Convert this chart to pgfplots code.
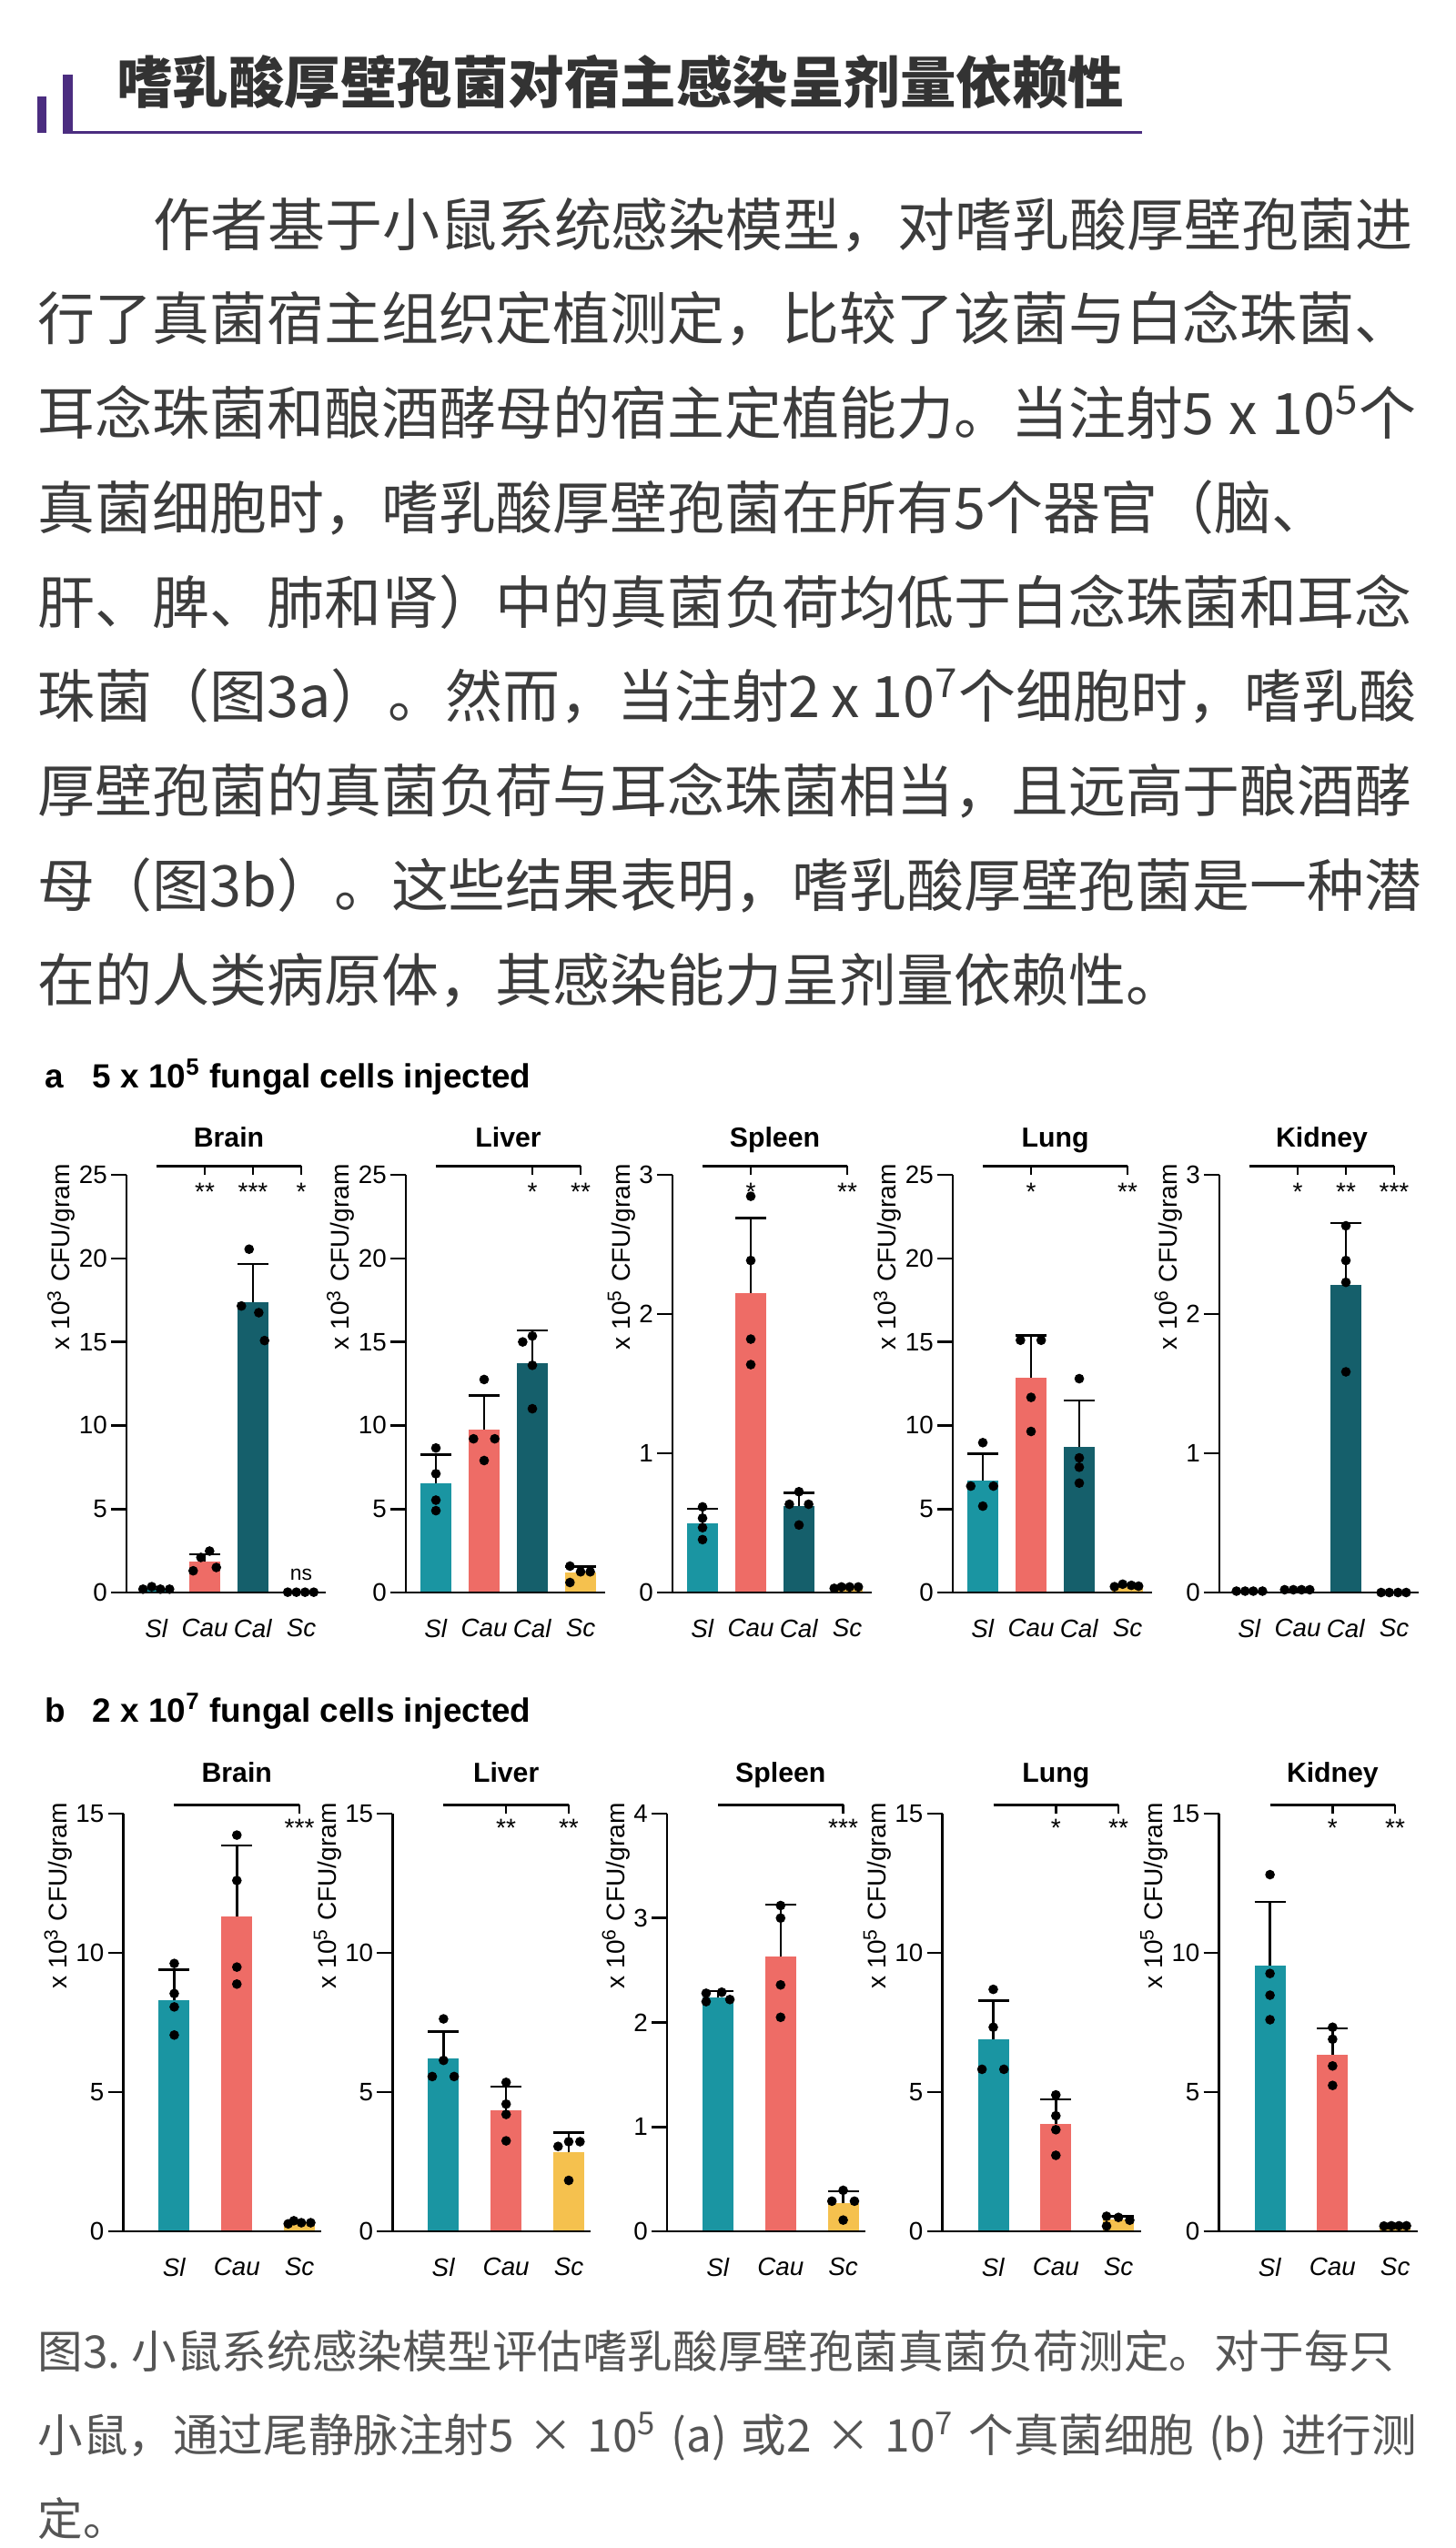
\documentclass[border=0pt]{standalone}
\usepackage{fontspec}
\usepackage{pgfplots}
\pgfplotsset{compat=1.18}
\setmainfont{Liberation Sans}
\newfontfamily\cjk{Noto Sans CJK SC}

% stretchable glue between CJK characters, switched on only in the text lines
\XeTeXinterchartoks 1 1 = {\hskip0pt plus 3pt\relax}
\XeTeXinterchartoks 1 2 = {\hskip0pt plus 3pt\relax}
\XeTeXinterchartoks 1 3 = {\hskip0pt plus 3pt\relax}
\XeTeXinterchartoks 3 1 = {\hskip0pt plus 3pt\relax}
\XeTeXinterchartoks 3 2 = {\hskip0pt plus 3pt\relax}
\XeTeXinterchartoks 0 1 = {\hskip0pt plus 3pt\relax}
\XeTeXinterchartoks 1 0 = {\hskip0pt plus 3pt\relax}
\newcommand{\cjkj}{\cjk\XeTeXinterchartokenstate=1 }

\definecolor{cSl}{HTML}{1A95A2}
\definecolor{cCau}{HTML}{EE6C66}
\definecolor{cCal}{HTML}{155F6B}
\definecolor{cSc}{HTML}{F5C14E}
\definecolor{hpurple}{HTML}{4B2D80}
\definecolor{titlegray}{HTML}{333333}
\definecolor{bodygray}{HTML}{3C3C3C}
\definecolor{capgray}{HTML}{555555}

\newcommand{\fs}[1]{\fontsize{#1}{#1}\selectfont}

% significance bracket, ticks + stars, organ title (used inside an axis)
\newcommand{\brk}[1]{\draw[line width=0.7pt] ({axis cs:1,0}|-{rel axis cs:0,1.021}) -- ({axis cs:#1,0}|-{rel axis cs:0,1.021});}
\newcommand{\sig}[3]{\draw[line width=0.7pt] ({axis cs:#1,0}|-{rel axis cs:0,1.021}) -- ({axis cs:#1,0}|-{rel axis cs:0,1});
  \node[font=\fs{8pt}, anchor=base, inner sep=0pt] at ({axis cs:#1,0}|-{rel axis cs:0,#3}) {#2};}
\newcommand{\organ}[3]{\node[font=\bfseries\fs{8.6pt}, anchor=base, inner sep=0pt] at ({axis cs:#1,0}|-{rel axis cs:0,#2}) {#3};}

\pgfplotsset{
  panel/.style={
    scale only axis, height=4.59cm,
    axis lines=left, axis line style={-, line width=0.75pt},
    ymin=0, enlargelimits=false, clip=false, axis on top,
    anchor=south west,
    xtick style={draw=none},
    ytick style={line width=0.75pt, black},
    tick align=outside, major tick length=0.17cm,
    ticklabel style={font=\fs{7.9pt}},
    yticklabel style={inner xsep=1pt},
    /pgf/number format/assume math mode=true,
    ylabel style={at={(ticklabel cs:1.027)}, anchor=south east, inner sep=0pt, font=\fs{8pt}},
  },
  rowa/.style={panel, width=2.185cm, xmin=0.377, xmax=4.5, xtick={1,2,3,4},
    xticklabels={\textit{Sl},\textit{Cau},\textit{Cal},\textit{Sc}}},
  rowb/.style={panel, width=2.18cm, xmin=0.186, xmax=3.355, xtick={1,2,3},
    xticklabels={\textit{Sl},\textit{Cau},\textit{Sc}}},
  cbar/.style={ybar, bar width=0.34cm, bar shift=0pt, draw=none, fill=#1},
  cbarE/.style={cbar=#1, error bars/y dir=plus, error bars/y explicit,
    error bars/error mark=|,
    error bars/error bar style={line width=0.7pt, black},
    error bars/error mark options={line width=0.7pt, black, mark size=0.17cm}},
  dots/.style={only marks, mark=*, mark size=1.3pt, black},
}

\begin{document}
\begin{tikzpicture}
\path[use as bounding box] (0,0) rectangle (16,-28);

% ---- header
\fill[hpurple] (0.41,-1.06) rectangle (0.51,-1.46);
\fill[hpurple] (0.69,-0.82) rectangle (0.80,-1.47);
\fill[hpurple] (0.69,-1.435) rectangle (12.55,-1.47);
\node[anchor=base west, inner sep=0pt, font=\cjk\bfseries\fs{17.5pt}, text=titlegray] at (1.276,-1.13) {嗜乳酸厚壁孢菌对宿主感染呈剂量依赖性};

% ---- body text
\begin{scope}[every node/.style={anchor=base west, inner sep=0pt, font=\cjkj\fs{17.9pt}, text=bodygray}]
\node at (1.68,-2.700) {\hbox to 13.88cm{作者基于小鼠系统感染模型，对嗜乳酸厚壁孢菌进}};
\node at (0.41,-3.738) {\hbox to 15.15cm{行了真菌宿主组织定植测定，比较了该菌与白念珠菌、}};
\node at (0.41,-4.775) {\hbox to 15.15cm{耳念珠菌和酿酒酵母的宿主定植能力。当注射5 x 10\textsuperscript{5}个}};
\node at (0.41,-5.813) {\hbox to 15.15cm{真菌细胞时，嗜乳酸厚壁孢菌在所有5个器官（脑、}};
\node at (0.41,-6.850) {\hbox to 15.15cm{肝、脾、肺和肾）中的真菌负荷均低于白念珠菌和耳念}};
\node at (0.41,-7.888) {\hbox to 15.15cm{珠菌（图3a）。然而，当注射2 x 10\textsuperscript{7}个细胞时，嗜乳酸}};
\node at (0.41,-8.925) {\hbox to 15.15cm{厚壁孢菌的真菌负荷与耳念珠菌相当，且远高于酿酒酵}};
\node at (0.41,-9.963) {\hbox to 15.15cm{母（图3b）。这些结果表明，嗜乳酸厚壁孢菌是一种潜}};
\node at (0.41,-11.000) {在的人类病原体，其感染能力呈剂量依赖性。};
\end{scope}

% ---- panel headings
\node[anchor=base west, inner sep=0pt, font=\bfseries\fs{10.5pt}] at (0.484,-11.956) {a};
\node[anchor=base west, inner sep=0pt, font=\bfseries\fs{10.5pt}] at (1.01,-11.956) {5 x 10\textsuperscript{5} fungal cells injected};
\node[anchor=base west, inner sep=0pt, font=\bfseries\fs{10.5pt}] at (0.484,-18.92) {b};
\node[anchor=base west, inner sep=0pt, font=\bfseries\fs{10.5pt}] at (1.01,-18.92) {2 x 10\textsuperscript{7} fungal cells injected};

% ================= row a =================
\begin{axis}[rowa, at={(1.39cm,-17.50cm)}, ymax=25, ytick={0,5,10,15,20,25}, ylabel={x 10\textsuperscript{3} CFU/gram}]
\addplot[cbar=cSl] coordinates {(1,0.22)};
\addplot[cbarE=cCau] coordinates {(2,1.85) +- (0,0.45)};
\addplot[cbarE=cCal] coordinates {(3,17.4) +- (0,2.25)};
\addplot[cbar=cSc] coordinates {(4,0.03)};
\addplot[dots] coordinates {(0.72,0.2)(0.9,0.35)(1.08,0.2)(1.27,0.2)
  (1.76,1.3)(1.92,2.1)(2.1,2.48)(2.24,1.5)
  (2.92,20.55)(2.76,17.15)(3.12,16.75)(3.24,15.08)
  (3.72,0.02)(3.9,0.02)(4.08,0.02)(4.26,0.02)};
\organ{2.5}{1.0675}{Brain}
\brk{4}
\sig{2}{**}{0.937}\sig{3}{***}{0.937}\sig{4}{*}{0.937}
\node[font=\fs{6.5pt}, anchor=base, inner sep=0pt] at (axis cs:4,0.76) {ns};
\end{axis}

\begin{axis}[rowa, at={(4.46cm,-17.50cm)}, ymax=25, ytick={0,5,10,15,20,25}, ylabel={x 10\textsuperscript{3} CFU/gram}]
\addplot[cbarE=cSl] coordinates {(1,6.55) +- (0,1.7)};
\addplot[cbarE=cCau] coordinates {(2,9.75) +- (0,2.05)};
\addplot[cbarE=cCal] coordinates {(3,13.7) +- (0,2.0)};
\addplot[cbarE=cSc] coordinates {(4,1.2) +- (0,0.35)};
\addplot[dots] coordinates {(1,8.65)(1,7.11)(1,5.53)(1,4.9)
  (2,12.75)(1.78,9.2)(2.22,9.2)(2,7.9)
  (2.8,15.0)(3,15.35)(3,13.6)(3,11.0)
  (3.78,1.58)(4,1.24)(4.2,1.24)(3.78,0.6)};
\organ{2.5}{1.0675}{Liver}
\brk{4}
\sig{3}{*}{0.937}\sig{4}{**}{0.937}
\end{axis}

\begin{axis}[rowa, at={(7.39cm,-17.50cm)}, ymax=3, ytick={0,1,2,3}, ylabel={x 10\textsuperscript{5} CFU/gram}]
\addplot[cbarE=cSl] coordinates {(1,0.5) +- (0,0.1)};
\addplot[cbarE=cCau] coordinates {(2,2.15) +- (0,0.54)};
\addplot[cbarE=cCal] coordinates {(3,0.62) +- (0,0.095)};
\addplot[cbar=cSc] coordinates {(4,0.035)};
\addplot[dots] coordinates {(1,0.615)(1,0.534)(1,0.466)(1,0.38)
  (2,2.846)(2,2.385)(2,1.82)(2,1.637)
  (3,0.724)(2.8,0.634)(3.2,0.634)(3,0.485)
  (3.73,0.03)(3.88,0.04)(4.05,0.04)(4.23,0.04)};
\organ{2.5}{1.0675}{Spleen}
\brk{4}
\sig{2}{*}{0.937}\sig{4}{**}{0.937}
\end{axis}

\begin{axis}[rowa, at={(10.47cm,-17.50cm)}, ymax=25, ytick={0,5,10,15,20,25}, ylabel={x 10\textsuperscript{3} CFU/gram}]
\addplot[cbarE=cSl] coordinates {(1,6.7) +- (0,1.6)};
\addplot[cbarE=cCau] coordinates {(2,12.85) +- (0,2.55)};
\addplot[cbarE=cCal] coordinates {(3,8.7) +- (0,2.8)};
\addplot[cbar=cSc] coordinates {(4,0.42)};
\addplot[dots] coordinates {(1,8.97)(0.75,6.37)(1.22,6.37)(1,5.17)
  (1.78,15.1)(2.21,15.1)(2,11.68)(2,9.64)
  (3,12.8)(3,8.06)(3,7.5)(3,6.55)
  (3.73,0.35)(3.9,0.5)(4.08,0.43)(4.23,0.38)};
\organ{2.5}{1.0675}{Lung}
\brk{4}
\sig{2}{*}{0.937}\sig{4}{**}{0.937}
\end{axis}

\begin{axis}[rowa, at={(13.40cm,-17.50cm)}, ymax=3, ytick={0,1,2,3}, ylabel={x 10\textsuperscript{6} CFU/gram}]
\addplot[cbar=cSl] coordinates {(1,0.01)};
\addplot[cbar=cCau] coordinates {(2,0.02)};
\addplot[cbarE=cCal] coordinates {(3,2.21) +- (0,0.445)};
\addplot[cbar=cSc] coordinates {(4,0)};
\addplot[dots] coordinates {(0.73,0.01)(0.91,0.01)(1.08,0.01)(1.27,0.01)
  (1.73,0.02)(1.91,0.02)(2.08,0.02)(2.25,0.02)
  (3,2.634)(3,2.385)(3,2.228)(3,1.585)
  (3.73,0)(3.9,0)(4.08,0)(4.25,0)};
\organ{2.5}{1.0675}{Kidney}
\brk{4}
\sig{2}{*}{0.937}\sig{3}{**}{0.937}\sig{4}{***}{0.937}
\end{axis}

% ================= row b =================
\begin{axis}[rowb, at={(1.355cm,-24.52cm)}, ymax=15, ytick={0,5,10,15}, ylabel={x 10\textsuperscript{3} CFU/gram}]
\addplot[cbarE=cSl] coordinates {(1,8.3) +- (0,1.1)};
\addplot[cbarE=cCau] coordinates {(2,11.3) +- (0,2.55)};
\addplot[cbar=cSc] coordinates {(3,0.32)};
\addplot[dots] coordinates {(1,9.62)(1,8.54)(1,8.06)(1,7.05)
  (2,14.23)(2,12.6)(2,9.49)(2,8.88)
  (2.82,0.27)(2.91,0.38)(3.03,0.31)(3.18,0.31)};
\organ{2}{1.075}{Brain}
\brk{3}
\sig{3}{***}{0.945}
\end{axis}

\begin{axis}[rowb, at={(4.314cm,-24.52cm)}, ymax=15, ytick={0,5,10,15}, ylabel={x 10\textsuperscript{5} CFU/gram}]
\addplot[cbarE=cSl] coordinates {(1,6.2) +- (0,0.98)};
\addplot[cbarE=cCau] coordinates {(2,4.35) +- (0,0.84)};
\addplot[cbarE=cSc] coordinates {(3,2.83) +- (0,0.72)};
\addplot[dots] coordinates {(1,7.63)(1,6.14)(0.82,5.56)(1.17,5.56)
  (2,5.35)(2,4.57)(2,4.2)(2,3.25)
  (2.83,3.05)(3,3.22)(3.18,3.22)(3,1.83)};
\organ{2}{1.075}{Liver}
\brk{3}
\sig{2}{**}{0.945}\sig{3}{**}{0.945}
\end{axis}

\begin{axis}[rowb, at={(7.33cm,-24.52cm)}, ymax=4, ytick={0,1,2,3,4}, ylabel={x 10\textsuperscript{6} CFU/gram}]
\addplot[cbarE=cSl] coordinates {(1,2.24) +- (0,0.06)};
\addplot[cbarE=cCau] coordinates {(2,2.63) +- (0,0.5)};
\addplot[cbarE=cSc] coordinates {(3,0.27) +- (0,0.115)};
\addplot[dots] coordinates {(0.81,2.28)(1.06,2.29)(1.19,2.22)(0.81,2.2)
  (2,3.12)(2,3.0)(2,2.36)(2,2.05)
  (3,0.393)(2.82,0.289)(3.18,0.289)(3,0.108)};
\organ{2}{1.075}{Spleen}
\brk{3}
\sig{3}{***}{0.945}
\end{axis}

\begin{axis}[rowb, at={(10.355cm,-24.52cm)}, ymax=15, ytick={0,5,10,15}, ylabel={x 10\textsuperscript{5} CFU/gram}]
\addplot[cbarE=cSl] coordinates {(1,6.9) +- (0,1.38)};
\addplot[cbarE=cCau] coordinates {(2,3.85) +- (0,0.89)};
\addplot[cbarE=cSc] coordinates {(3,0.41) +- (0,0.13)};
\addplot[dots] coordinates {(1,8.69)(1,7.33)(0.82,5.82)(1.17,5.82)
  (2,4.9)(2,4.15)(2,3.65)(2,2.73)
  (2.81,0.54)(3,0.5)(3.18,0.4)(2.81,0.19)};
\organ{2}{1.075}{Lung}
\brk{3}
\sig{2}{*}{0.945}\sig{3}{**}{0.945}
\end{axis}

\begin{axis}[rowb, at={(13.396cm,-24.52cm)}, ymax=15, ytick={0,5,10,15}, ylabel={x 10\textsuperscript{5} CFU/gram}]
\addplot[cbarE=cSl] coordinates {(1,9.55) +- (0,2.28)};
\addplot[cbarE=cCau] coordinates {(2,6.35) +- (0,0.94)};
\addplot[cbar=cSc] coordinates {(3,0.2)};
\addplot[dots] coordinates {(1,12.81)(1,9.26)(1,8.48)(1,7.6)
  (2,7.33)(2,6.9)(2,5.94)(2,5.24)
  (2.82,0.19)(2.94,0.2)(3.06,0.2)(3.18,0.2)};
\organ{2}{1.075}{Kidney}
\brk{3}
\sig{2}{*}{0.945}\sig{3}{**}{0.945}
\end{axis}

% ---- caption
\begin{scope}[every node/.style={anchor=base west, inner sep=0pt, font=\cjkj\fs{14.1pt}, text=capgray}]
\node at (0.41,-26.02) {\hbox to 15.15cm{图3.\hspace{0.25em}小鼠系统感染模型评估嗜乳酸厚壁孢菌真菌负荷测定。对于每只}};
\node at (0.41,-26.94) {\hbox to 15.15cm{小鼠，通过尾静脉注射5 × 10\textsuperscript{5} (a) 或2 × 10\textsuperscript{7} 个真菌细胞 (b) 进行测}};
\node at (0.41,-27.86) {定。};
\end{scope}
\end{tikzpicture}
\end{document}
